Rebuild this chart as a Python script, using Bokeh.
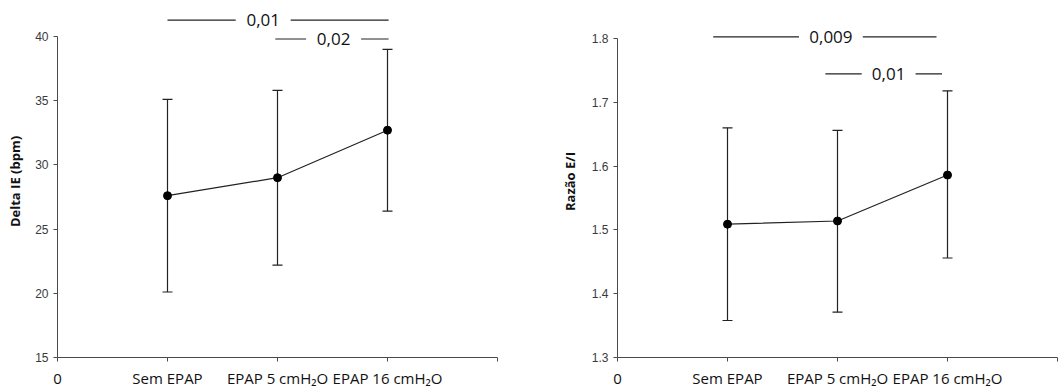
from bokeh.plotting import figure
from bokeh.layouts import row
from bokeh.models import (Range1d, FixedTicker, Whisker, TeeHead, ColumnDataSource,
                          PrintfTickFormatter)
from bokeh.core.properties import value
from bokeh.embed import file_html
from bokeh.resources import INLINE

# ---- data ----
categories = ["Sem EPAP", "EPAP 5 cmH\u2082O", "EPAP 16 cmH\u2082O"]
cat_pos = [1, 2, 3]

delta_mean = [27.6, 29.0, 32.7]
delta_upper = [35.1, 35.8, 39.0]
delta_lower = [20.1, 22.2, 26.4]

ratio_mean = [1.509, 1.514, 1.586]
ratio_upper = [1.660, 1.656, 1.718]
ratio_lower = [1.358, 1.371, 1.456]

delta_ticks = [15, 20, 25, 30, 35, 40]
ratio_ticks = [1.3, 1.4, 1.5, 1.6, 1.7, 1.8]

# significance brackets
delta_br_labels = ["0,01", "0,02"]
delta_br_x0 = [1.0, 1.98]
delta_br_x1 = [3.01, 3.01]
delta_br_y = [41.27, 39.8]
delta_br_tx = [1.87, 2.51]
delta_br_gap = [0.25, 0.25]

ratio_br_labels = ["0,009", "0,01"]
ratio_br_x0 = [0.87, 1.89]
ratio_br_x1 = [2.9, 2.95]
ratio_br_y = [1.8025, 1.7445]
ratio_br_tx = [1.94, 2.465]
ratio_br_gap = [0.29, 0.245]

AXIS_COLOR = "#4a4a4a"
TICK_FONT = "Liberation Sans"
CAT_FONT = "Open Sans"


def panel(width, bl, br_, bb, yr, ybounds, yticks, fmt, ylabel, mean, upper, lower,
          blabels, bx0, bx1, by, btx, bgap, label_standoff):
    p = figure(width=width, height=392, output_backend="svg", toolbar_location=None,
               x_range=Range1d(0, 4), y_range=Range1d(*yr),
               min_border_left=bl, min_border_right=br_, min_border_top=5,
               min_border_bottom=bb)
    p.outline_line_color = None
    p.xgrid.visible = False
    p.ygrid.visible = False

    # y axis
    ya = p.yaxis[0]
    ya.bounds = ybounds
    ya.ticker = FixedTicker(ticks=yticks)
    ya.minor_tick_line_color = None
    ya.formatter = PrintfTickFormatter(format=fmt)
    ya.major_tick_in = 0
    ya.major_tick_out = 4
    ya.axis_line_color = AXIS_COLOR
    ya.major_tick_line_color = AXIS_COLOR
    ya.major_label_text_font = TICK_FONT
    ya.major_label_text_font_size = "12px"
    ya.major_label_text_color = "#3a3a3a"
    ya.major_label_standoff = 5
    ya.axis_label = ylabel
    ya.axis_label_text_font = CAT_FONT
    ya.axis_label_text_font_style = "bold"
    ya.axis_label_text_font_size = "13px"
    ya.axis_label_text_color = "#111111"
    ya.axis_label_standoff = label_standoff

    # x axis
    xa = p.xaxis[0]
    xa.bounds = (0, 4)
    xa.ticker = FixedTicker(ticks=[0] + cat_pos + [4])
    overrides = {c: l for c, l in zip(cat_pos, categories)}
    overrides[0] = "0"
    overrides[4] = ""
    xa.major_label_overrides = overrides
    xa.minor_tick_line_color = None
    xa.major_tick_in = 0
    xa.major_tick_out = 4
    xa.axis_line_color = AXIS_COLOR
    xa.major_tick_line_color = AXIS_COLOR
    xa.major_label_text_font = CAT_FONT
    xa.major_label_text_font_size = "15px"
    xa.major_label_text_color = "#111111"
    xa.major_label_standoff = 6

    # error bars
    src = ColumnDataSource(dict(x=cat_pos, m=mean, up=upper, lo=lower))
    w = Whisker(base="x", upper="up", lower="lo", source=src, line_color="#222222",
                line_width=1.2,
                upper_head=TeeHead(size=10, line_color="#222222", line_width=1.2),
                lower_head=TeeHead(size=10, line_color="#222222", line_width=1.2))
    p.add_layout(w)
    p.line("x", "m", source=src, line_color="#222222", line_width=1.2)
    p.scatter("x", "m", source=src, size=8, color="black")

    # significance brackets
    seg_x0 = []
    seg_x1 = []
    seg_y = []
    for a, b, yy, tx, g in zip(bx0, bx1, by, btx, bgap):
        seg_x0 += [a, tx + g]
        seg_x1 += [tx - g, b]
        seg_y += [yy, yy]
    p.segment(x0=seg_x0, y0=seg_y, x1=seg_x1, y1=seg_y, line_color="#222222", line_width=1.2)
    p.text(x=btx, y=by, text=blabels, text_font=value(CAT_FONT), text_font_size="17px",
           text_align="center", text_baseline="middle", text_color="#111111")
    return p


p1 = panel(530, 57, 33, 35, (15, 42.41), (15, 40), delta_ticks, "%d", "Delta IE (bpm)",
           delta_mean, delta_upper, delta_lower,
           delta_br_labels, delta_br_x0, delta_br_x1, delta_br_y, delta_br_tx, delta_br_gap,
           8)
p2 = panel(529, 87, 2, 32, (1.3, 1.8518), (1.3, 1.8), ratio_ticks, "%.1f", "Razão E/I",
           ratio_mean, ratio_upper, ratio_lower,
           ratio_br_labels, ratio_br_x0, ratio_br_x1, ratio_br_y, ratio_br_tx, ratio_br_gap,
           10)

layout = row(p1, p2)
open("out.html", "w").write(file_html(layout, INLINE))
